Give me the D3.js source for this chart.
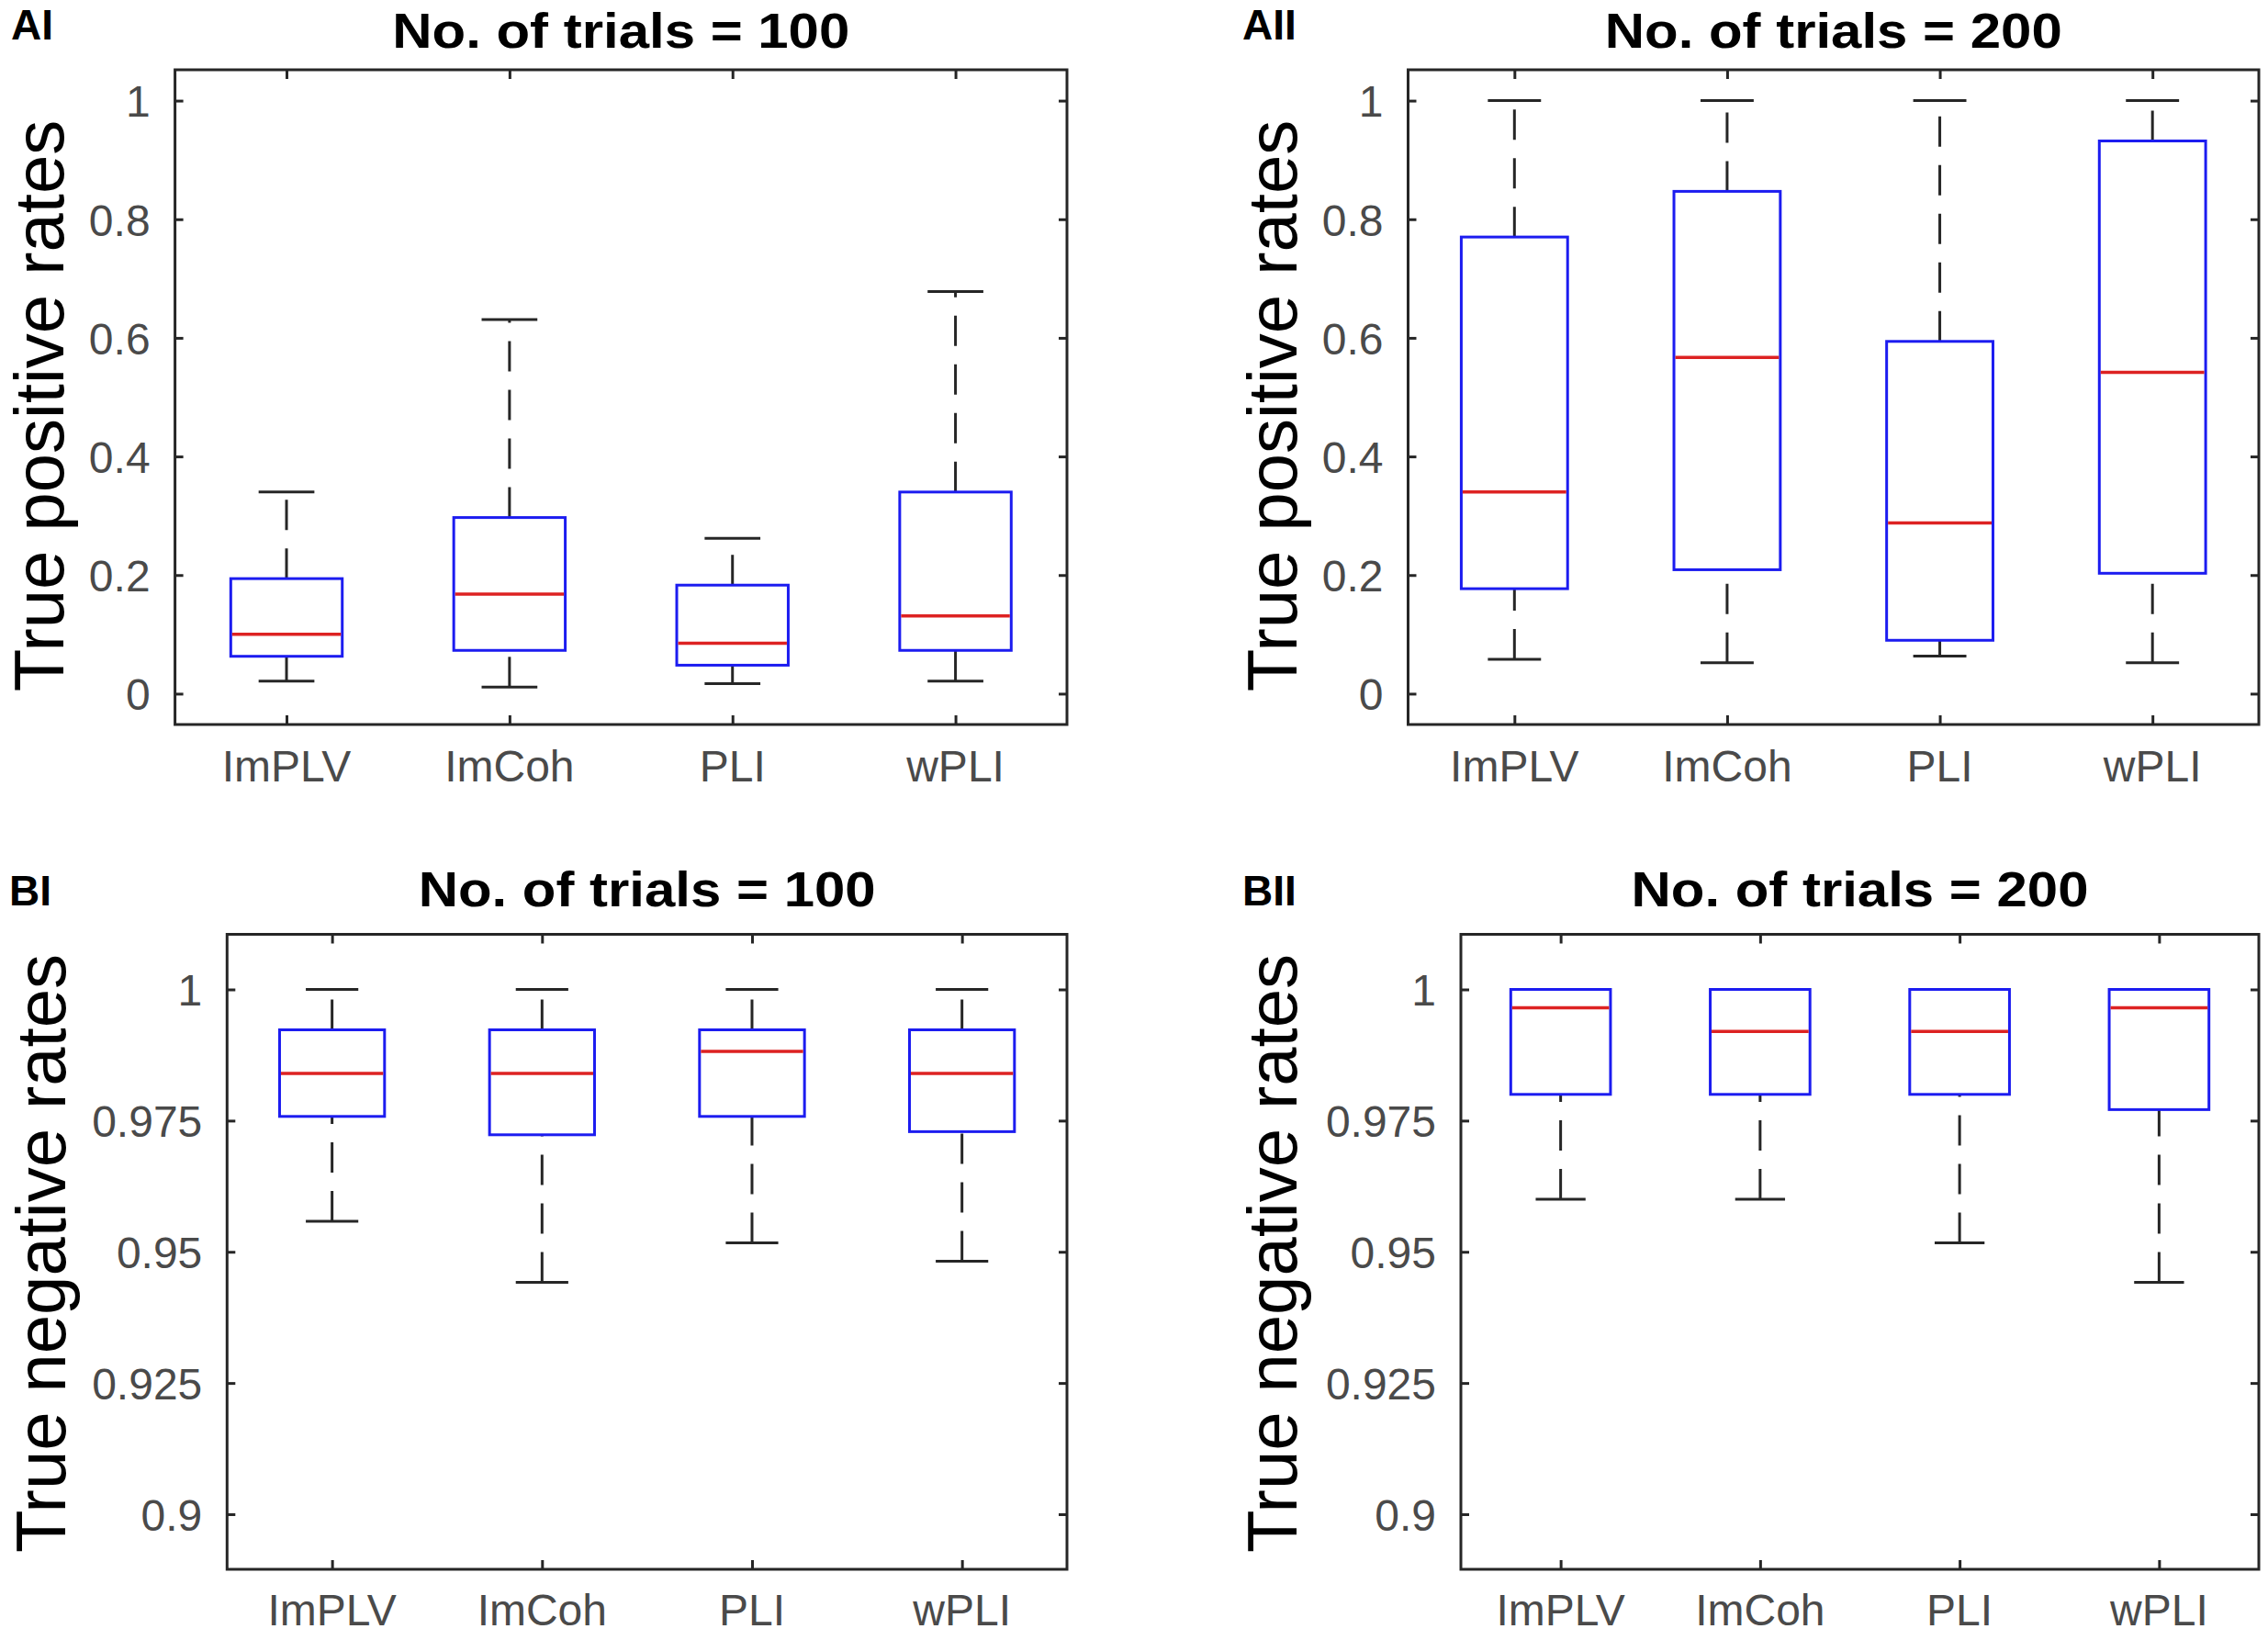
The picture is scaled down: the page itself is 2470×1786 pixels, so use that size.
<!DOCTYPE html>
<html>
<head>
<meta charset="utf-8">
<script src="https://cdn.jsdelivr.net/npm/d3@7"></script>
<style>
  body { margin: 0; background: #fff; }
  svg { display: block; font-family: "Liberation Sans", Arial, Helvetica, sans-serif; }
</style>
</head>
<body>
<svg id="chart" width="2470" height="1786"></svg>
<script>
// categories and ticks
const methods = ["ImPLV", "ImCoh", "PLI", "wPLI"];
const tprTicks = [0, 0.2, 0.4, 0.6, 0.8, 1];
const tprTickLabels = ["0", "0.2", "0.4", "0.6", "0.8", "1"];
const tnrTicks = [0.9, 0.925, 0.95, 0.975, 1];
const tnrTickLabels = ["0.9", "0.925", "0.95", "0.975", "1"];

// box summaries per method: [lower whisker, q1, median, q3, upper whisker]
const tpr100 = [
  [0.021, 0.063, 0.100, 0.194, 0.340],
  [0.011, 0.073, 0.168, 0.297, 0.631],
  [0.017, 0.048, 0.085, 0.183, 0.262],
  [0.021, 0.073, 0.131, 0.340, 0.678],
];
const tpr200 = [
  [0.058, 0.177, 0.340, 0.770, 1.0],
  [0.052, 0.209, 0.567, 0.847, 1.0],
  [0.0635, 0.090, 0.288, 0.594, 1.0],
  [0.052, 0.203, 0.542, 0.932, 1.0],
];
const tnr100 = [
  [0.9558, 0.9758, 0.984, 0.9923, 1.0],
  [0.9442, 0.9723, 0.984, 0.9923, 1.0],
  [0.9517, 0.9758, 0.9882, 0.9923, 1.0],
  [0.9482, 0.9729, 0.984, 0.9923, 1.0],
];
const tnr200 = [
  [0.960, 0.980, 0.9965, 1.0, 1.0],
  [0.960, 0.980, 0.992, 1.0, 1.0],
  [0.9517, 0.980, 0.992, 1.0, 1.0],
  [0.9442, 0.9771, 0.9965, 1.0, 1.0],
];

const panels = [
  { tag: "AI", title: "No. of trials = 100", ylabel: "True positive rates", data: tpr100,
    ticks: tprTicks, tickLabels: tprTickLabels, domain: [-0.052, 1.052],
    box: { left: 190.6, right: 1162, top: 76, bottom: 789 },
    tagX: 12, tagY: 43, titleY: 52, ylabX: 69, ylabY: 442, xlabY: 851 },
  { tag: "AII", title: "No. of trials = 200", ylabel: "True positive rates", data: tpr200,
    ticks: tprTicks, tickLabels: tprTickLabels, domain: [-0.052, 1.052],
    box: { left: 1533.5, right: 2460, top: 76, bottom: 789 },
    tagX: 1353, tagY: 43, titleY: 52, ylabX: 1412, ylabY: 442, xlabY: 851 },
  { tag: "BI", title: "No. of trials = 100", ylabel: "True negative rates", data: tnr100,
    ticks: tnrTicks, tickLabels: tnrTickLabels, domain: [0.8895, 1.0105],
    box: { left: 247.3, right: 1162, top: 1017.5, bottom: 1709 },
    tagX: 10, tagY: 986, titleY: 987, ylabX: 71, ylabY: 1365, xlabY: 1770 },
  { tag: "BII", title: "No. of trials = 200", ylabel: "True negative rates", data: tnr200,
    ticks: tnrTicks, tickLabels: tnrTickLabels, domain: [0.8895, 1.0105],
    box: { left: 1591, right: 2460, top: 1017.5, bottom: 1709 },
    tagX: 1353, tagY: 986, titleY: 987, ylabX: 1412, ylabY: 1365, xlabY: 1770 },
];

const axisColor = "#262626";
const tickText = "#4a4a4a";
const boxBlue = "#1c1cf0";
const medianRed = "#dd2222";

const svg = d3.select("#chart");
svg.append("rect").attr("width", 2470).attr("height", 1786).attr("fill", "#fff");

function drawPanel(p) {
  const b = p.box;
  const g = svg.append("g");

  const x = d3.scaleLinear().domain([0.5, methods.length + 0.5]).range([b.left, b.right]);
  const y = d3.scaleLinear().domain(p.domain).range([b.bottom, b.top]);
  const step = x(2) - x(1);
  const boxW = step * 0.5;
  const capW = step * 0.25;

  // y ticks on left and right (inward)
  const yAxisL = d3.axisLeft(y).tickValues(p.ticks).tickSize(-9).tickFormat((d, i) => p.tickLabels[i]).tickPadding(27);
  const yl = g.append("g").attr("transform", `translate(${b.left},0)`).call(yAxisL);
  const yAxisR = d3.axisRight(y).tickValues(p.ticks).tickSize(-9).tickFormat("");
  const yr = g.append("g").attr("transform", `translate(${b.right},0)`).call(yAxisR);

  // x ticks top and bottom (inward)
  const xAxisB = d3.axisBottom(x).tickValues(d3.range(1, methods.length + 1)).tickSize(-10).tickFormat("");
  const xb = g.append("g").attr("transform", `translate(0,${b.bottom})`).call(xAxisB);
  const xAxisT = d3.axisTop(x).tickValues(d3.range(1, methods.length + 1)).tickSize(-10).tickFormat("");
  const xt = g.append("g").attr("transform", `translate(0,${b.top})`).call(xAxisT);

  [yl, yr, xb, xt].forEach(a => {
    a.select(".domain").remove();
    a.selectAll(".tick line").attr("stroke", axisColor).attr("stroke-width", 3);
  });
  yl.selectAll(".tick text")
    .attr("fill", tickText).style("font-size", "48px").attr("dy", "0.36em");

  // category labels
  g.selectAll(".cat").data(methods).join("text")
    .attr("class", "cat")
    .attr("x", (d, i) => x(i + 1))
    .attr("y", p.xlabY)
    .attr("text-anchor", "middle")
    .attr("fill", tickText)
    .style("font-size", "48px")
    .text(d => d);

  const items = g.selectAll(".item").data(p.data).join("g").attr("class", "item");

  // whiskers, drawn from lower value up so the dash starts at the low end
  items.append("line")
    .attr("x1", (d, i) => x(i + 1)).attr("x2", (d, i) => x(i + 1))
    .attr("y1", d => y(d[3])).attr("y2", d => y(d[4]));
  items.append("line")
    .attr("x1", (d, i) => x(i + 1)).attr("x2", (d, i) => x(i + 1))
    .attr("y1", d => y(d[0])).attr("y2", d => y(d[1]));
  items.selectAll("line")
    .attr("stroke", axisColor).attr("stroke-width", 3).attr("stroke-dasharray", "33,20");

  // caps
  [0, 4].forEach(k => {
    items.append("line")
      .attr("x1", (d, i) => x(i + 1) - capW / 2).attr("x2", (d, i) => x(i + 1) + capW / 2)
      .attr("y1", d => y(d[k])).attr("y2", d => y(d[k]))
      .attr("stroke", axisColor).attr("stroke-width", 3);
  });

  // boxes
  items.append("rect")
    .attr("x", (d, i) => x(i + 1) - boxW / 2)
    .attr("width", boxW)
    .attr("y", d => y(d[3]))
    .attr("height", d => y(d[1]) - y(d[3]))
    .attr("fill", "none")
    .attr("stroke", boxBlue).attr("stroke-width", 3);

  // medians
  items.append("line")
    .attr("x1", (d, i) => x(i + 1) - boxW / 2 + 1.5).attr("x2", (d, i) => x(i + 1) + boxW / 2 - 1.5)
    .attr("y1", d => y(d[2])).attr("y2", d => y(d[2]))
    .attr("stroke", medianRed).attr("stroke-width", 3.5);

  // frame
  g.append("rect")
    .attr("x", b.left).attr("y", b.top)
    .attr("width", b.right - b.left).attr("height", b.bottom - b.top)
    .attr("fill", "none").attr("stroke", axisColor).attr("stroke-width", 3);

  // title
  g.append("text")
    .attr("x", (b.left + b.right) / 2).attr("y", p.titleY)
    .attr("text-anchor", "middle")
    .attr("textLength", 498).attr("lengthAdjust", "spacingAndGlyphs")
    .style("font-size", "53px").style("font-weight", "bold")
    .attr("fill", "#000")
    .text(p.title);

  // panel tag
  g.append("text")
    .attr("x", p.tagX).attr("y", p.tagY)
    .style("font-size", "46px").style("font-weight", "bold")
    .attr("fill", "#000")
    .text(p.tag);

  // y label
  g.append("text")
    .attr("transform", `translate(${p.ylabX},${p.ylabY}) rotate(-90)`)
    .attr("text-anchor", "middle")
    .style("font-size", "76px")
    .attr("fill", "#000")
    .text(p.ylabel);
}

panels.forEach(drawPanel);
</script>
</body>
</html>
